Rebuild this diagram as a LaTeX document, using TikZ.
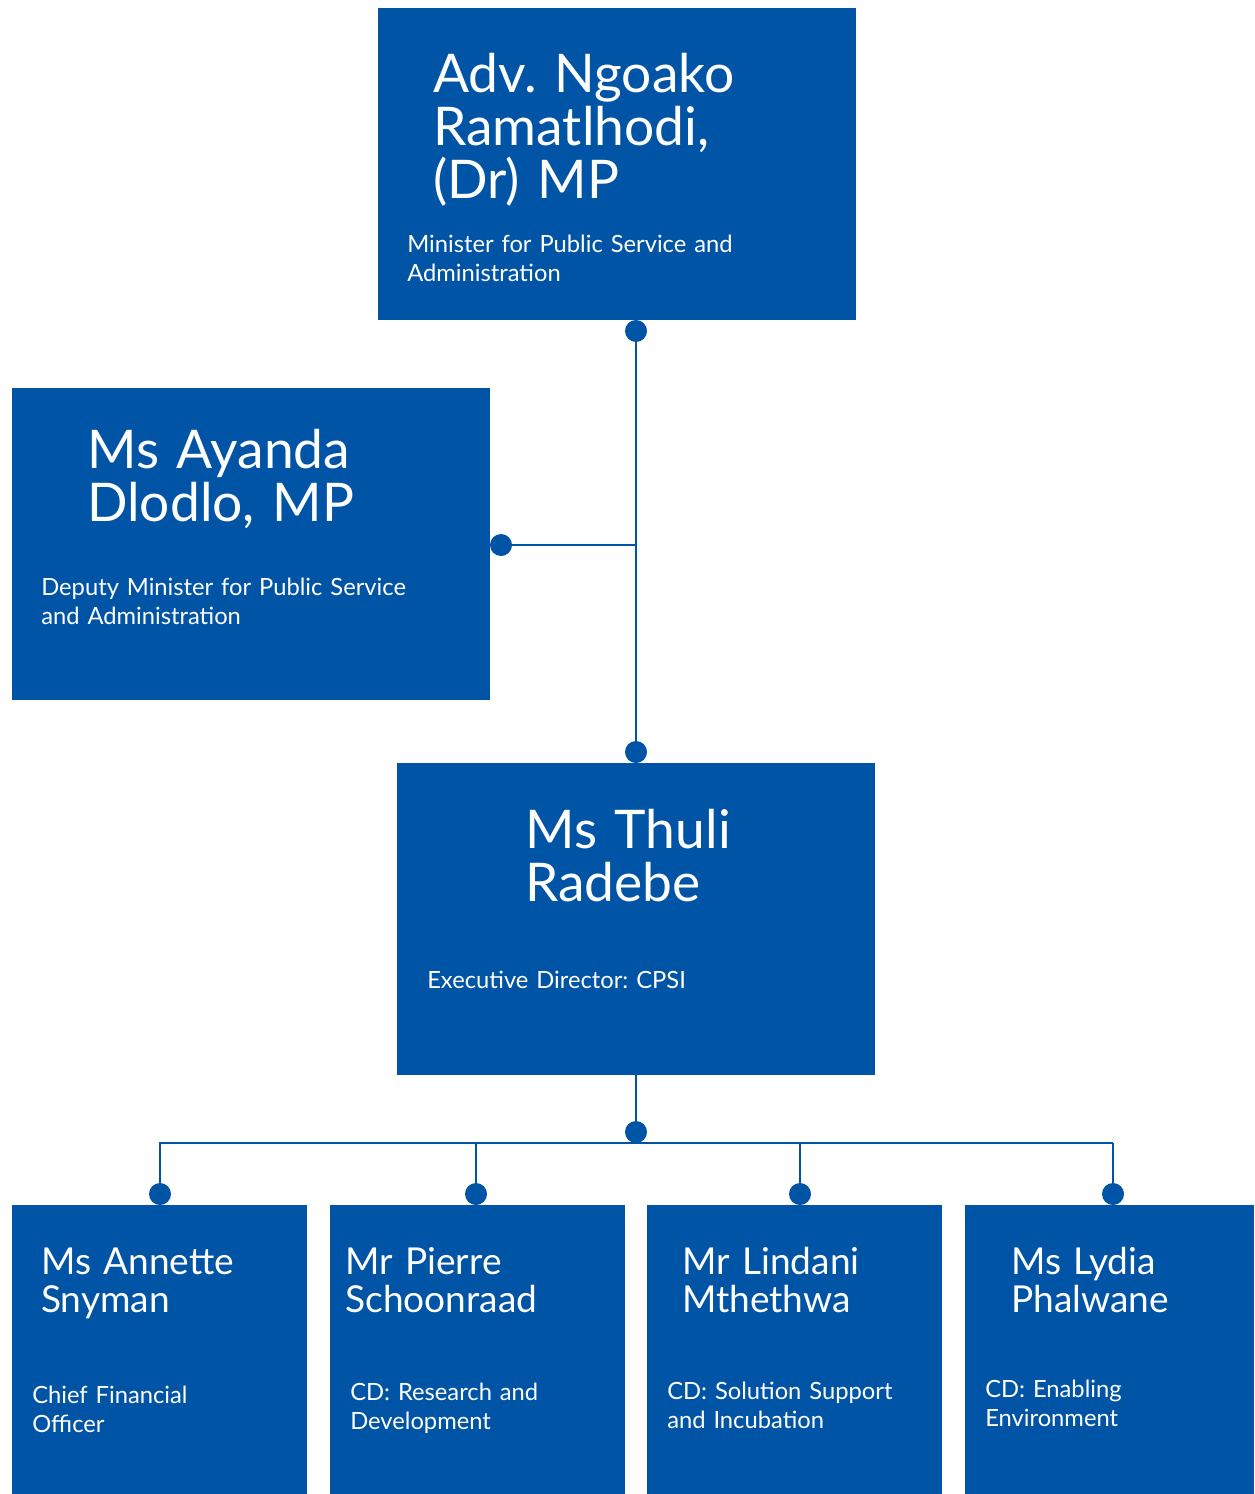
\documentclass[tikz,border=0pt]{standalone}
\usepackage{fontspec}
\setmainfont{Lato}
\definecolor{cpsi}{RGB}{0,84,166}
\begin{document}
\frenchspacing
\begin{tikzpicture}[x=0.75pt,y=-0.75pt,
  box/.style={fill=cpsi,draw=none,anchor=north west,inner sep=0pt,outer sep=0pt},
  bigbox/.style={box,minimum width=358.5pt,minimum height=234pt},
  smallbox/.style={box,minimum width=221.25pt,minimum height=216.75pt},
  bigname/.style={anchor=base west,inner sep=0pt,text=white,text width=330pt,align=left,font=\fontsize{40}{39.75}\selectfont},
  smallname/.style={anchor=base west,inner sep=0pt,text=white,text width=200pt,align=left,font=\fontsize{27.8}{28.5}\selectfont},
  role/.style={anchor=base west,inner sep=0pt,text=white,text width=300pt,align=left,font=\fontsize{17.8}{21.75}\selectfont},
  dot/.style={circle,fill=cpsi,draw=none,inner sep=0pt,minimum size=16.5pt},
  conn/.style={draw=cpsi,line width=2pt}]
\useasboundingbox (0,0) rectangle (1254,1494);

% boxes
\node[bigbox] (min) at (378,8) {};
\node[bigbox] (dep) at (12,388) {};
\node[bigbox] (ed) at (397,763) {};
\node[smallbox] (c1) at (12,1205) {};
\node[smallbox] (c2) at (330,1205) {};
\node[smallbox] (c3) at (647,1205) {};
\node[smallbox,minimum width=216.75pt] (c4) at (965,1205) {};

% texts
\node[bigname] (minname) at (433,93) {Adv. Ngoako\\Ramatlhodi,\\(Dr) MP};
\node[role] (minrole) at (407,253) {Minister for Public Service and\\Administration};
\node[bigname] (depname) at (87,468) {Ms Ayanda\\Dlodlo, MP};
\node[role] (deprole) at (41,595) {Deputy Minister for Public Service\\and Administration};
\node[bigname] (edname) at (525,848) {Ms Thuli\\Radebe};
\node[role] (edrole) at (427,988) {Executive Director: CPSI};

\node[smallname] (c1name) at (41,1274) {Ms Annette\\Snyman};
\node[role] (c1role) at (32,1403) {Chief Financial\\Officer};
\node[smallname] (c2name) at (345,1274) {Mr Pierre\\Schoonraad};
\node[role] (c2role) at (350,1400) {CD: Research and\\Development};
\node[smallname] (c3name) at (682,1274) {Mr Lindani\\Mthethwa};
\node[role] (c3role) at (667,1399) {CD: Solution Support\\and Incubation};
\node[smallname] (c4name) at (1011,1274) {Ms Lydia\\Phalwane};
\node[role] (c4role) at (985,1397) {CD: Enabling\\Environment};

% connector points
\coordinate (bus) at (636,1143);
\coordinate (busL) at (159,1143);
\coordinate (busR) at (1113,1143);

% connectors
\draw[conn] (ed.north) -- (min.south -| ed.north);
\node[dot] (d0) at (636,331) {};
\node[dot] (d1) at (501,545) {};
\node[dot] (d2) at (636,752) {};
\draw[conn] (d1.center) -- (d1.center -| ed.north);
\draw[conn] (ed.south) -- (bus);
\draw[conn] (busL) -- (busR);
\node[dot] (d3) at (636,1132) {};
\node[dot] (e1) at (160,1194) {};
\node[dot] (e2) at (476,1194) {};
\node[dot] (e3) at (800,1194) {};
\node[dot] (e4) at (1113,1194) {};
\draw[conn] (e1.center) -- (e1.center |- bus);
\draw[conn] (e2.center) -- (e2.center |- bus);
\draw[conn] (e3.center) -- (e3.center |- bus);
\draw[conn] (e4.center) -- (e4.center |- bus);
\end{tikzpicture}
\end{document}
